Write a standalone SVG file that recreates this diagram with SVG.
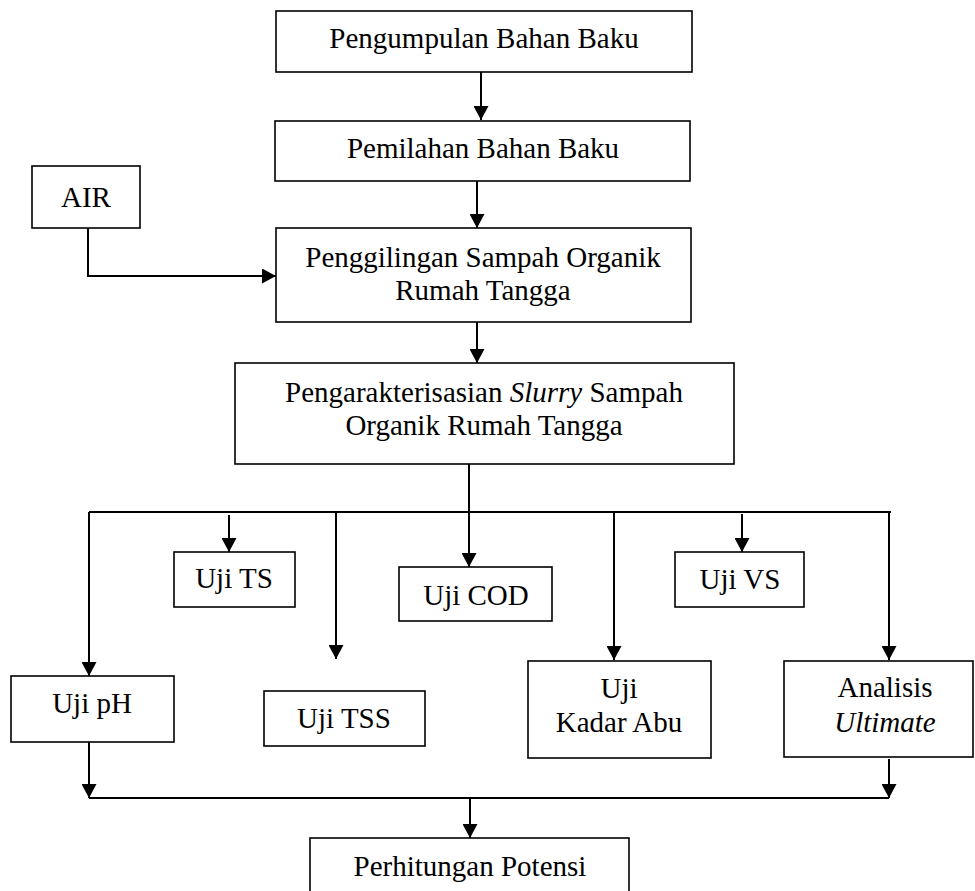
<svg xmlns="http://www.w3.org/2000/svg" width="975" height="891" viewBox="0 0 975 891">
<style>
.b{fill:#fff;stroke:#000;stroke-width:1.6}
.t{font-family:'Liberation Serif','Times New Roman',Tinos,'DejaVu Serif',serif;font-size:29px;fill:#000;text-anchor:middle}
.c{fill:none;stroke:#000;stroke-width:2}
.a{marker-end:url(#ah)}
</style>
<defs>
<marker id="ah" markerUnits="userSpaceOnUse" markerWidth="15" markerHeight="15" refX="14" refY="7.5" orient="auto">
<path d="M0,0 L14,7.5 L0,15 z" fill="#000"/>
</marker>
</defs>
<rect width="975" height="891" fill="#fff"/>
<g id="connectors">
<line class="c a" x1="481" y1="72" x2="481" y2="120"/>
<line class="c a" x1="477" y1="181" x2="477" y2="228"/>
<path class="c a" d="M88,228 V276 H276"/>
<line class="c a" x1="477" y1="322" x2="477" y2="363"/>
<line class="c a" x1="469" y1="464" x2="469" y2="567"/>
<path class="c" d="M89,512 H891"/>
<line class="c a" x1="89" y1="512" x2="89" y2="676"/>
<line class="c a" x1="229" y1="515" x2="229" y2="552"/>
<line class="c a" x1="336" y1="512" x2="336" y2="659"/>
<line class="c a" x1="614" y1="512" x2="614" y2="660"/>
<line class="c a" x1="742" y1="514" x2="742" y2="552"/>
<line class="c a" x1="889" y1="512" x2="889" y2="660"/>
<line class="c a" x1="89" y1="742" x2="89" y2="798"/>
<line class="c a" x1="889" y1="759" x2="889" y2="798"/>
<path class="c" d="M89,798 H889"/>
<line class="c a" x1="470" y1="798" x2="470" y2="838"/>
</g>
<g id="n1"><rect class="b" x="276" y="11" width="416" height="61"/><text class="t" font-family="Liberation Serif, serif" x="484" y="48">Pengumpulan Bahan Baku</text></g>
<g id="n2"><rect class="b" x="275" y="121" width="415" height="60"/><text class="t" x="483" y="158">Pemilahan Bahan Baku</text></g>
<g id="air"><rect class="b" x="32" y="166" width="108" height="62"/><text class="t" x="86" y="207">AIR</text></g>
<g id="n3"><rect class="b" x="276" y="228" width="415" height="94"/><text class="t" x="483" y="267">Penggilingan Sampah Organik</text><text class="t" x="483" y="300">Rumah Tangga</text></g>
<g id="n4"><rect class="b" x="235" y="363" width="499" height="101"/><text class="t" x="484" y="402">Pengarakterisasian <tspan font-style="italic">Slurry</tspan> Sampah</text><text class="t" x="484" y="435">Organik Rumah Tangga</text></g>
<g id="ts"><rect class="b" x="174" y="552" width="121" height="55"/><text class="t" x="234" y="588">Uji TS</text></g>
<g id="cod"><rect class="b" x="399" y="567" width="153" height="54"/><text class="t" x="476" y="605">Uji COD</text></g>
<g id="vs"><rect class="b" x="675" y="552" width="129" height="55"/><text class="t" x="740" y="589">Uji VS</text></g>
<g id="ph"><rect class="b" x="11" y="676" width="163" height="66"/><text class="t" x="92" y="713">Uji pH</text></g>
<g id="tss"><rect class="b" x="264" y="691" width="161" height="55"/><text class="t" x="344" y="728">Uji TSS</text></g>
<g id="abu"><rect class="b" x="528" y="661" width="183" height="97"/><text class="t" x="619" y="698">Uji</text><text class="t" x="619" y="732">Kadar Abu</text></g>
<g id="ult"><rect class="b" x="784" y="661" width="189" height="96"/><text class="t" x="885" y="697">Analisis</text><text class="t" x="885" y="732" font-style="italic">Ultimate</text></g>
<g id="pot"><rect class="b" x="310" y="838" width="319" height="70"/><text class="t" x="470" y="876">Perhitungan Potensi</text></g>
</svg>
